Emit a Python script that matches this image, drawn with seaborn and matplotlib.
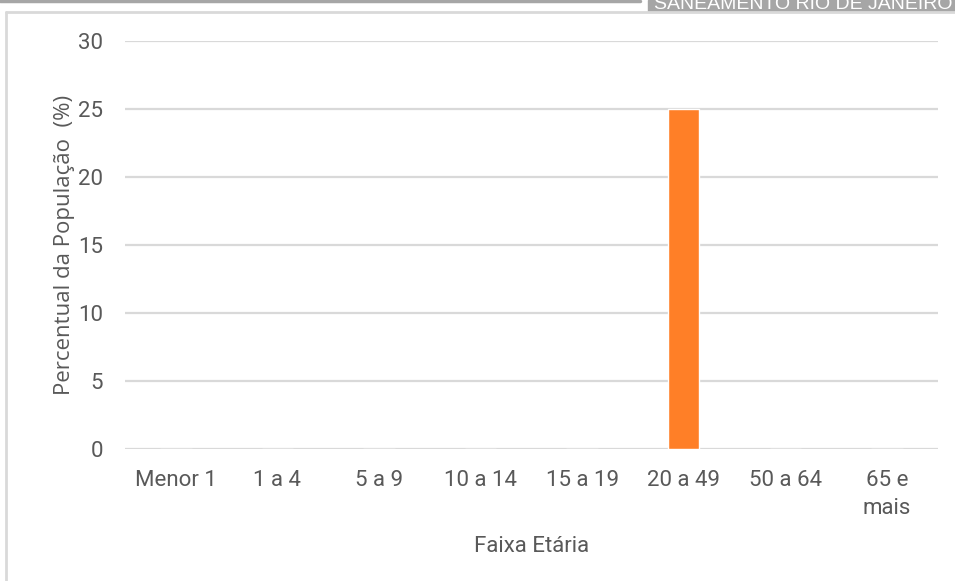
import pandas as pd
import seaborn as sns
import matplotlib.pyplot as plt
from matplotlib.patches import Rectangle
from matplotlib.lines import Line2D

faixas = ["Menor 1", "1 a 4", "5 a 9", "10 a 14", "15 a 19", "20 a 49", "50 a 64", "65 e\nmais"]
percentual = [0, 0, 0, 0, 0, 25, 0, 0]
yticks = [0, 5, 10, 15, 20, 25, 30]

data = pd.DataFrame({"Faixa": faixas, "Percentual": percentual})

sns.set_style("white")
plt.rcParams['font.family'] = ['Roboto', 'DejaVu Sans']

fig = plt.figure(figsize=(9.55, 5.81), dpi=100)
ax = fig.add_axes([0.1309, 0.2272, 0.851, 0.7022])

sns.barplot(data=data, x="Faixa", y="Percentual", color="#FF7F27",
            width=0.31, saturation=1, ax=ax, zorder=3)

ax.set_ylim(0, 30)
ax.set_xlim(-0.5, len(faixas) - 0.5)
ax.set_yticks(yticks)
ax.yaxis.grid(True, color="#D9D9D9", linewidth=1.6, zorder=0)
ax.set_axisbelow(True)
for s in ax.spines.values():
    s.set_visible(False)
ax.tick_params(axis="both", length=0, labelsize=16, labelcolor="#595959")
ax.tick_params(axis="y", pad=16)
ax.tick_params(axis="x", pad=15)
for lab in ax.get_xticklabels():
    lab.set_linespacing(1.45)

ax.set_xlabel("Faixa Etária", fontsize=16, color="#595959", labelpad=12)
ax.set_ylabel("Percentual da População  (%)", fontsize=16, color="#595959",
              family=["Open Sans", "DejaVu Sans"], labelpad=2)

# moldura e cabeçalho da página
fig.add_artist(Line2D([0, 0.67], [0.998, 0.998], color="#A6A6A6", linewidth=2.5,
                      transform=fig.transFigure))
fig.add_artist(Rectangle((0.679, 0.981), 0.321, 0.019, color="#A6A6A6",
                         transform=fig.transFigure))
fig.text(0.685, 0.993, "SANEAMENTO RIO DE JANEIRO", color="white", fontsize=14,
         va="center", ha="left", family=["Liberation Sans", "DejaVu Sans"])
fig.add_artist(Line2D([0.006, 1], [0.979, 0.979], color="#D9D9D9", linewidth=2,
                      transform=fig.transFigure))
fig.add_artist(Line2D([0.006, 0.006], [0, 0.979], color="#D9D9D9", linewidth=2,
                      transform=fig.transFigure))

fig.savefig("out.png", dpi=100)
